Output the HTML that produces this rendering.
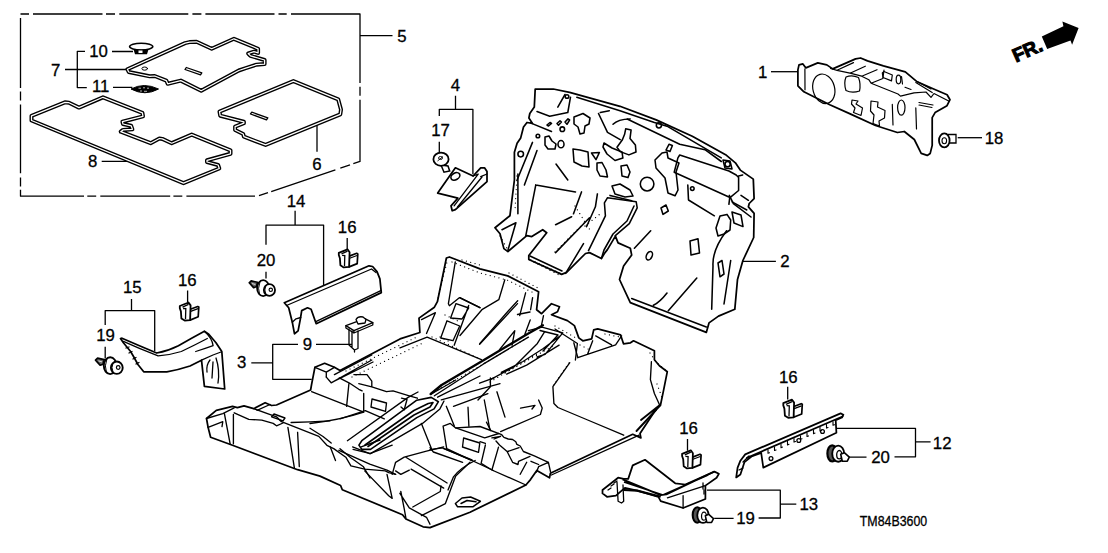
<!DOCTYPE html>
<html><head><meta charset="utf-8">
<style>
html,body{margin:0;padding:0;background:#fff;}
svg{display:block;}
text{font-family:"Liberation Sans",sans-serif;font-size:16.8px;fill:#000;stroke:#000;stroke-width:0.3px;}
.l{fill:none;stroke:#000;stroke-width:1.3;stroke-linejoin:round;stroke-linecap:butt;}
.o{fill:none;stroke:#000;stroke-width:1.75;stroke-linejoin:round;stroke-linecap:round;}
.t{fill:none;stroke:#000;stroke-width:1;stroke-linejoin:round;stroke-linecap:round;}
.mat{fill:#fff;stroke:#000;stroke-width:4;stroke-linejoin:round;}
.matin{fill:none;stroke:#fff;stroke-width:1.25;stroke-linejoin:round;}
</style></head>
<body>
<svg width="1108" height="553" viewBox="0 0 1108 553">
<!-- dashed box -->
<g class="l" id="box">
<path d="M20.5 14H29M33 14H102.5M106 14H115M119.3 14H188.3M192.4 14H201.4M205.4 14H274.5M278.5 14H286.7M291 14H360V82.9M360 86.8V95.8M360 99.8V161.4L353.3 163.7M350 164.8L340.3 168.1M335.4 169.8L271.2 191.6M268 192.7L259 195.7M255 196.2H186.4M182.3 196.2H173.4M170.2 196.2H100.3M96.2 196.2H87.3M84 196.2H20.5V189.7M20.5 186.4V177.4M20.5 173.2V104.5M20.5 100.4V91.4M20.5 88.1V18.1"/>
</g>
<!-- labels -->
<g id="labels">
<text x="762.6" y="78" text-anchor="middle">1</text>
<text x="785" y="267" text-anchor="middle">2</text>
<text x="241.7" y="368.4" text-anchor="middle">3</text>
<text x="455.3" y="91" text-anchor="middle">4</text>
<text x="402" y="41.6" text-anchor="middle">5</text>
<text x="317" y="169.5" text-anchor="middle">6</text>
<text x="55.7" y="75.6" text-anchor="middle">7</text>
<text x="92.6" y="167.4" text-anchor="middle">8</text>
<text x="307.4" y="350.4" text-anchor="middle">9</text>
<text x="98.5" y="56.8" text-anchor="middle">10</text>
<text x="100.6" y="92.4" text-anchor="middle">11</text>
<text x="942.2" y="448.5" text-anchor="middle">12</text>
<text x="808.8" y="510" text-anchor="middle">13</text>
<text x="296" y="206.7" text-anchor="middle">14</text>
<text x="132.3" y="293.3" text-anchor="middle">15</text>
<text x="347.2" y="232.5" text-anchor="middle">16</text>
<text x="187.3" y="285.5" text-anchor="middle">16</text>
<text x="688.5" y="434" text-anchor="middle">16</text>
<text x="788.3" y="382.7" text-anchor="middle">16</text>
<text x="440.5" y="136.4" text-anchor="middle">17</text>
<text x="994" y="144" text-anchor="middle">18</text>
<text x="105.6" y="341" text-anchor="middle">19</text>
<text x="745.6" y="524.3" text-anchor="middle">19</text>
<text x="266" y="266.4" text-anchor="middle">20</text>
<text x="880.5" y="463" text-anchor="middle">20</text>
<text x="859.8" y="526" textLength="67.4" lengthAdjust="spacingAndGlyphs" style="font-size:14px">TM84B3600</text>
</g>
<!-- leader lines -->
<g class="l" id="leaders">
<path d="M771 71.7H797"/>
<path d="M742 261.4H775.9"/>
<path d="M251.3 362.8H272.7M298 344.3H272.7V379.3H311.7M316 344.3H352"/>
<path d="M455.5 95.7V109.3M439.3 116V109.3H472.9V174.3M439.3 141.8V152.7"/>
<path d="M360 35.6H392.5"/>
<path d="M317 125.2V151.8"/>
<path d="M65 69.5H127.3M85 51.3H77.3V87.6H86.8M112 51.5H133M113 87.3H132.4"/>
<path d="M101.7 161.4H134.7"/>
<path d="M915.5 441.8H930.6M837 428.4H915.5V456.8H894.5M847.8 457.2H866.5"/>
<path d="M780.3 504.2H796.3M706.9 490.2H780.3V518H758.6M714.2 518.3H733.6"/>
<path d="M295.1 210.8V225.1M266 244.7V225.1H323.6V285M266 271.8V278.6"/>
<path d="M131.5 299V310.6M105.2 325V310.6H154.7V351M105.2 346.8V358.4"/>
<path d="M347.2 238V250M187.6 290.4V302M787.7 386.7V399.4M687.5 439V450.8"/>
<path d="M957.7 137.7H982"/>
</g>
<!-- FR arrow -->
<path d="M1041.8 36.6L1063.4 26.3L1062.4 21.4L1078.6 27.9L1072.1 44.7L1070.5 40.4L1047.2 49Z" fill="#000"/>
<text x="1016" y="62.5" transform="rotate(-24 1016 62.5)" font-weight="700" style="font-weight:700;font-size:19px;stroke:#000;stroke-width:1.1;letter-spacing:0px">FR.</text>
<!-- mats -->
<g id="mats">
<path class="mat" d="M127.4 69.2L185.1 43.1L189.5 42.1L196.5 41.8L211.7 48.8L234 38.8L258.1 48.8L258.1 52.9L254 51.7L248.2 53.5L250.5 55.9L264.6 60L264.6 64.1L256.4 64.7L245.8 68.2L238.8 70.5L201.2 90.8L180.8 80.6L167.7 83.8L166.3 80.6L154.7 76L149.7 76.3L128.7 72Z"/>
<path class="matin" d="M127.4 69.2L185.1 43.1L189.5 42.1L196.5 41.8L211.7 48.8L234 38.8L258.1 48.8L258.1 52.9L254 51.7L248.2 53.5L250.5 55.9L264.6 60L264.6 64.1L256.4 64.7L245.8 68.2L238.8 70.5L201.2 90.8L180.8 80.6L167.7 83.8L166.3 80.6L154.7 76L149.7 76.3L128.7 72Z"/>
<path class="mat" d="M219.5 111.6L293.4 81.1L338.2 99.4L341 109.6L340.3 114.3L265.6 144.9L243.9 136.7L243.2 134L235.1 130L235.1 126.6L243.9 123.2L243.9 121.8L220.2 115.7Z"/>
<path class="matin" d="M219.5 111.6L293.4 81.1L338.2 99.4L341 109.6L340.3 114.3L265.6 144.9L243.9 136.7L243.2 134L235.1 130L235.1 126.6L243.9 123.2L243.9 121.8L220.2 115.7Z"/>
<path class="mat" d="M31.5 115.8L64.9 102.3L69 102.7L79 107.6L103 97.3L142.4 112.9L143 116.4L122.4 121.7L123 124L131.2 125.8L132.4 129.3L123 129.9L120.7 131.7L150.6 143.2L159.4 138.5L162.3 138.9L171.7 143.2L191.7 134.6L230.5 150.3L230.5 153.8L207 160.3L207 162L218.1 165L219.3 168.5L183.5 183.2L31.5 120.5Z"/>
<path class="matin" d="M31.5 115.8L64.9 102.3L69 102.7L79 107.6L103 97.3L142.4 112.9L143 116.4L122.4 121.7L123 124L131.2 125.8L132.4 129.3L123 129.9L120.7 131.7L150.6 143.2L159.4 138.5L162.3 138.9L171.7 143.2L191.7 134.6L230.5 150.3L230.5 153.8L207 160.3L207 162L218.1 165L219.3 168.5L183.5 183.2L31.5 120.5Z"/>
</g>

<!-- mat details -->
<g class="t">
<ellipse cx="144.7" cy="68.6" rx="2.8" ry="1.6"/>
<path d="M185 69.5L200.5 74.8L201.8 72.8L186.3 67.5Z" style="stroke-width:1.3"/>
<path d="M250.5 114L266.5 119.8L267.8 117.8L251.8 112.2Z" style="stroke-width:1.3"/>
</g>
<!-- clip 10 -->
<ellipse cx="141.2" cy="46.6" rx="11.6" ry="3.4" fill="#fff" stroke="#000" stroke-width="1.6"/>
<path d="M133.5 49.5L135 54.2H147L148.5 49.5Z" fill="#000"/>
<rect x="138.5" y="50.5" width="4" height="2.5" fill="#fff"/>
<!-- clip 11 -->
<path d="M131 89Q144 82 158.5 89Q145 96.5 131 89Z" fill="#000" stroke="#000" stroke-width="1"/>
<path d="M138.5 88.2h2.5M143 87.8h2M147 88.2h2M140 91h2M144 91.3h3" stroke="#fff" stroke-width="0.7"/>


<!-- part 2 -->
<g id="p2">
<path class="o" d="M535.2 89L553.3 89L569.6 92.3L620 106.3L656.2 119.9L692.3 136.2L725.6 154.7L735.4 162.8L740.3 170.1L753.3 179.1L754.1 198.6L749.2 203.5L748.4 206.8L754.1 213.3L753.7 237.5L742.9 260.5L737.5 279.5L734.8 309.3L718.5 316.1L709 322.9L706.3 332.4L630.3 302.6L619.5 279.5L623.6 266L631.7 255.1L630.3 248.3L618.1 242.9L615.4 236.1L607.4 249.6L604.4 253.5L601.4 258.5L589.5 252.6L585.5 253.5L566.6 272.4L561.6 274.4L528.8 259.5L528.8 255.5L546.7 232.7L542.7 229.7L531.8 236.6L526.8 235.6L507.9 251.6L503.9 248.6L500 233.7L495 227.7L509.9 215.8L514.4 180L514.4 152.3L517.1 143.3L520.7 137.9L523.5 127L527 122.5L532.5 123.4L528.9 118L529.8 113.5L534.3 107.1Z" fill="#fff"/>
<g class="t" style="stroke-width:1.55">
<path d="M537 111.6L549.7 116.2L567.8 112.5L570.5 97.2M557.8 107.1L565 94.5M576.8 97.2L620 110.8L654.4 122.6L667 126.2L721.3 157.9M531.6 123.4L551.5 131.5"/>
<circle cx="567" cy="96.5" r="1.8"/>
<path d="M547 125L550 122.5L551.5 123.5L548.5 126ZM557 123.5L560 120.7L561.4 122L558.5 125.2ZM565 122L568 118.9L569.6 120L567 124.3Z"/>
<circle cx="562.3" cy="129.2" r="2.3"/><circle cx="537.9" cy="136" r="1.8"/><circle cx="520.7" cy="154.1" r="2.8"/>
<path d="M574 117L583 113.5L590 118L589 124L585 126L584 133L580 134L578 127L574 124Z"/>
<path d="M545 137L549 136L552 141L556 144L555 149L548 149L545 145Z"/>
<ellipse cx="561" cy="144.2" rx="3" ry="3.6"/>
<path d="M532.5 142.4L517.1 180M537 150.5L524.4 185"/>
<path d="M573 149L580 150L588 152L589 167L582 166L574 162Z"/>
<path d="M591.5 153L599.4 152.5L596 159.6Z"/>
<path d="M597 163L602 162.5L606 170L607.5 177L600 176L597 170Z"/>
<path d="M604 143L612 148L622 152L622.9 158L615 160.5L607 154L603 147Z"/>
<path d="M598.5 113.5L607.5 132.4L620.2 139.7M600.3 112.5L609.3 110.7M613 124.3Q618 119 630 118.9M556 164L567.8 180"/>
<path d="M621 166L627 165L630 172L628 177.6L622 176Z"/>
<circle cx="658.9" cy="125.3" r="2.6"/><circle cx="727.6" cy="164.2" r="2.6"/>
<path d="M723 160L725 168L732 169L730 161Z"/>
<path d="M627.2 119L679.7 144.3L705 149.7L721.3 161.5"/>
<path d="M677.9 157.9L679.7 155L728.9 171L736.2 175L738.6 177.5L738.6 190.5L729.7 197.8L728.9 204.3M728.9 197L674.2 172.3L677.9 157.9M738.6 176L742.7 175M741 195.4L748.4 200.3M732.1 201.9L746.8 210"/>
<path d="M655 160L662 153L667 152L668 158L679 163L676 172L678 190L675 195.8L668 193L665 178L656 168Z"/>
<path d="M666 150L669 144.3L672.4 145.5L670 151.5Z"/>
<path d="M625.7 128.8L631.1 129.9L630 138.6L635.4 145.1L636 152L628.9 154.9L620.2 151.6L617 147.3L622.4 139.7L624.6 134.3Z"/>
<path d="M612 186L620 184L630 190L633 196L625 197L615 194Z"/>
<circle cx="647.1" cy="184.1" r="6.8"/><circle cx="692.3" cy="188.6" r="1.8"/>
<path d="M687.8 185L688.5 200L714.4 215.8M688.7 192.7"/>
<path d="M607.4 197.8L636.2 201.8L637.2 207.8L629.3 223.7L615.3 235.6M588.5 250.6L605.4 215.8L604.4 202.8L607.4 197.8M634 206L627 221L613 234L604 250L601.4 258.5"/>
<path d="M535.8 184.9L575.5 191.9M535.8 184.9L525.8 235.6M517.9 174L517.9 213.8M502 229.7L515.9 222.7L508 250M581.5 191.9L573.5 213.8M555.6 224.7L571.6 216.7M597.4 193.9L595.4 206.8L586.5 226.7M555.6 252.6L589.5 217.7M565.6 273.4L583.5 243.6M530 256L562 271"/>
<path d="M631.7 298.5L706.3 327M729.3 195.4L733.4 203.6L751 217M726.6 230.7Q712 250 713 266L711.7 309.3M730.7 260.5L724 304"/>
<path d="M720 216L727 214.4L730.7 220L730 230L724 234L718 236L716 228L718 222Z"/>
<path d="M732 212L741 215L743 226.6L734 223Z"/>
<path d="M690 241L698 238.8L699.5 253L691 255Z"/>
<ellipse cx="649.3" cy="255.7" rx="2.8" ry="4.5" transform="rotate(25 649.3 255.7)"/>
<path d="M661 208L666 205L668.3 211L663 214.4Z"/>
<path d="M718 263L722 260.5L724 274L720 276.8Z"/>
<path d="M650.7 230.7L634.4 248.3M696.8 278.1L668.3 310.7M667 293Q660 302 653.4 305.3M610 195.4L631.7 200.8"/>
</g>
</g>

<!-- part 3 carpet -->
<g id="p3">
<path class="o" d="M206.5 418.5L216.3 410.3L232.5 406.3L237.4 407.6L244 405.8L253.7 408.7L265.1 402.7L271.6 405.5L276.5 405L310.6 390L311.6 384.4L314.9 367.3L324.6 363.3L334.4 367.3L340 370.5L400 338.9L419.9 332.5L419 318.1L434.4 307.2L437.4 301.7L446.4 258L449.4 257L480 268.9L507.7 275.9L538.6 291.8L536.6 309.7L541.6 313.7L551.5 303.7L559.5 306.7L557.5 311.7L551.5 314.7L567.4 320.6L574.4 325.6L578.8 337.9L582.8 340.8L591.7 338.8L593.7 329.9L597.7 328.9L620.6 334.9L623.5 343.8L630.5 342.8L633.5 340.8L654.4 350.8L654.4 359.7L659.4 365.7L667.3 371.7L663.3 391.6L660.4 405.5L654.4 411.7L640 433.4L640.9 437.9L632.7 434.3L550.4 473.2L549.5 477.8L536.8 470.5L530.5 479.6L525.9 485L470 512.2L430 527.6L423.1 526.8L405.9 519L402.5 514.7L342.3 489.8L340.6 485.5L320 476.1L297.6 469.7L271.6 460L232.5 445.3L210.6 437.2L208.1 427.4Z" fill="#fff"/>
<g class="t" style="stroke-width:1.35">
<path d="M206.5 418.5L222.8 413.6L234.2 407.9M208.1 427.4L222.8 421.7L222 426.6"/>
<path d="M234.2 412.8L248.8 419.3L261.8 420.1L273.2 423.4L276.5 425.8L283 423"/>
<path d="M253.7 408.7L276.5 416.8L281.4 421.7L318.8 436.4L326.9 445.3L333.7 448.6L345.8 457.2L350.9 465.8L364.7 469.2L385.3 470.9L388.7 472.6L395.6 474.4"/>
<path d="M224.4 413.6L230.1 443.7M233.4 414.4L233.4 443.7M287.9 427.4L294.4 468.1M297.6 432.3L299.3 466.5"/>
<path d="M291.1 422.5Q310 422 330 420.9M257 410.3L270 404.5M271.6 416.8L283 420.9L285 418L274 414Z"/>
<path d="M314.9 367.3L326.3 372.2L334.4 367.3M326.3 372.2L326.3 377.1M311.6 391.7L363.7 412.1"/>
<path d="M326.3 377.1L331.2 382.8L371.8 360M334.4 374.6L371.8 355M332.8 382L373 362"/>
<path d="M339.3 377.9L349 382.8L358.8 389.3L362.1 390.9M349 382.8L346.6 406.4M363.7 393.4L363.7 410.4"/>
<path d="M353.9 374.6L367 374.6L371.8 381.2L371.8 386.8L386.5 391.7L393 390.9L409.3 395.8L417.4 398.2M358.8 383.6L371.8 386.8"/>
<path d="M372 399L386.5 403L385.5 411.3L371 407Z"/>
<path d="M401.5 398.1L407 399.5L404.2 409.8L401 407"/>
<path d="M310 423.5Q340 420 363.7 412.1M310 428.3L323 436.5L331.2 443"/>
<path d="M400 347.9L427.1 337.1L481.4 359.7M440.7 338L447 320.8L459.7 326L453 340.7ZM450.6 318L456 303.6L468.7 308L462 319ZM454.2 345.2L468.7 305.4"/>
<path d="M430.7 394L441.6 385L481.4 361.5L526.6 334.4L542.9 325.3" style="stroke-width:2.3"/><path d="M434.4 395.8L483.2 364.2L528.4 337.1"/>
<path d="M528.4 330.7L542 327.1L562.8 332.9L545.1 354.4L537 357M540 330.5L558 335L543 351M490.4 379.6L513.9 366.9L537.4 343.4L544.7 331.6M501.3 372.3L523 361.5L542.9 348.8L560 336M506.7 374.1L526.6 365.1L559.1 345.2"/>
<path d="M479.6 383.2L494 377.8M490.4 377.8L490.4 386.8L478 400M499.5 349.7L514.8 330.7L512.1 345.2M479.6 344.3L517.5 303.6M517.5 314.5L530 312M524.8 334.4L530.2 319.9"/>
<path d="M358.9 445.1L361.8 449.4L370.5 449.4L416.8 417.6L434.1 408.9L438.4 401.7L431.2 397.4L416.8 400.2L361.8 440.7ZM365 445L413.9 410.5L428.3 403.5L433 402.5L430 407L414 415L368 446.5" style="stroke-width:1.6"/>
<path d="M347.4 440.7L408.1 397.4L418 392M353.1 449.4L370.5 453.7L422.5 423.4L439.9 408.9L444 401"/>
<path d="M430.4 394.5L455.7 380M437.6 397.2L480 376M441.3 399.9L500 383.6"/>
<path d="M340 418.9L365.3 410.7L384.3 418.9M340 448.7L350.8 457.8L363.5 466.8L370 478"/>
<path d="M443.1 426.1L450.3 423.4L455.7 427.9L484.7 437.9L498.8 433.5M443.1 426.1L446.7 448.7L493.4 470.5M463.6 438L479.8 443L478.5 452.4L462.5 447Z"/>
<path d="M421.4 423.4L432.2 450.5M446.3 406.3L454.4 426.2M468 407.2L468.9 426.2M484.3 400L489.7 428.9M496.9 391.8L505 417.1M453.5 406.3L487.9 393.6"/>
<path d="M455.7 427.9L480 426.5L501.7 434.7L503.9 437.4L508.2 439L512.6 439.5L515.8 441.7L516.9 444.4L520.2 446L523.4 451.5L534.3 455.8L548.4 462.3L550.6 472.1M491.9 437.9L500.6 436.3L494.1 439M496 441L499.5 445L507.1 451.5L510.4 458L512.6 462.3L518 464.5L518.5 461.3L530 456.4M507.7 451.5L519.1 447.7M485.4 445L481.1 463.4M498.5 447.1L491.9 470M480 441.7L485.4 443.3M481.1 463.4L491.9 470L525.9 485M520.2 474.3L526.7 462.3M531 461.3L538.6 464.5M536.5 472.1L538.6 466.7L548.4 462.3M486.5 422.2L490.9 430.9"/>
<path d="M500.6 431.6L540.4 414.5L542.2 408.1L538.6 400M520.5 408.1L535 405.4L532 409M430 449.7L442.6 447.9L471.6 460.5M475.2 460.5Q460 468 453.5 476.8L448 490"/>
<path d="M553.9 403.5L557.9 407.5L587.7 420L623.7 435.2M552.9 386.6L553.9 403.5M552.9 386.6L569.8 362.7M651.4 361.7L650.4 379.6L654.4 393.5L659.4 404.5"/>
<path d="M573.8 342.8L577.8 357.7L615.6 344.8L621.6 335.9M587.7 353.8L592.7 340.8M595.7 335.9L611.6 344.8"/>
<path d="M551.4 475L639.1 435.2"/><path d="M641 420L659.9 405M636.5 431L656 410" style="stroke-width:1.9"/>
<path d="M504.8 279.8L498.8 299.7L481.9 309.7L460 335.5M460 297.7L479.9 307.7M517.7 300.7L505.8 313.7L479.9 343.5M525.6 292.8L519.7 315.6M532.6 297.7L530.6 309.7M541.6 324.6L543.5 315.6M555 329L577.4 343.5L575.4 360"/>
<path d="M455.3 261.9L448.4 303.7L449.4 305.7L459.3 297.7L480 307.7M421.5 319.6L435.4 312.7L426.5 333.5"/>
<path d="M335.5 460.6L330.3 446.9M338.9 450.3L369.8 464.1L387 470.1L395.6 474.4M364.7 470.9L388.7 495.8L392.2 498.4L387 474.4"/>
<path d="M400.8 491.5L404.2 508.7L405.9 518.2M399.9 493.3L409.3 507.9L426.5 517.3L430 524.2"/>
<path d="M392.2 474.4L395.6 462.3L404.2 457.2L426.5 451.2L443.7 446.9M395.6 470.9L400.8 474.4L409.3 470.1M405.9 457.2L447.1 483M411.1 469.2L443.7 488.1"/>
<path d="M412.8 507L440.3 491.5L441 486M421.4 515.6L445.4 503.6L455.7 476.1L470 462.3M430 447.7L433.4 452L462.6 462.3M443.7 448.6L472 460"/>
<path d="M455.4 503.5L462 498L470.6 497L480.4 501.3L472.8 506.8L457.6 506.8ZM461 503.5L467 500.5L476 501.8" style="stroke-width:1.5"/>
<path d="M352.6 446.9L369.8 453.7L392.2 445.2M361.2 446.9L380 440"/>
</g>
</g>
<!-- texture dots -->
<g fill="none" stroke="#000" stroke-width="1.25" stroke-linecap="round" stroke-dasharray="0.01 4.5">
<path d="M346 371L419 336M352 377L425 342M432 337L478 358"/>
<path d="M438 298L447 262M452 262L480 273L507 280L536 294"/>
<path d="M462 260L480 265M509 273L538 288"/>
<path d="M445 315L460 322M440 337L452 343"/>
<path d="M434 392L480 366L527 338M490 382L540 352M505 373L555 345"/>
<path d="M569 363L553 386M555 326L576 338M650 353L656 362L668 372M657 384L663 400"/>
<path d="M530 260L561 276M575 206L590 230M555 252L585 222M585 226L600 214"/>
<path d="M517 176L515 210M531 260L561 273.5"/>
<path d="M500 236L508 250"/>
<path d="M605 334L620 337M580 345L590 350"/>
</g>
<!-- screws -->
<g id="screws">
<g transform="translate(249.2 282.8) scale(0.95)"><path d="M0 0L2.1 -2L8.7 -0.5L7.6 4.1L4.6 5.1Z" fill="#666" stroke="#000" stroke-width="1.7" stroke-linejoin="round"/>
<path d="M3 0.8L6.5 1.8" stroke="#fff" stroke-width="0.8"/>
<ellipse cx="14.7" cy="5.6" rx="6.4" ry="8.4" fill="#fff" stroke="#000" stroke-width="1.9"/>
<path d="M11.5 -1.5Q8.5 6 11 12.5" fill="none" stroke="#000" stroke-width="1"/>
<ellipse cx="21.3" cy="7.6" rx="5.9" ry="6.2" fill="#fff" stroke="#000" stroke-width="1.9"/>
<path d="M17.5 3Q15.5 7.5 17.5 12" fill="none" stroke="#000" stroke-width="1"/>
<circle cx="22.7" cy="7.4" r="1.8" fill="none" stroke="#000" stroke-width="1.2"/></g>
<g transform="translate(95.5 360.1)"><path d="M0 0L2.1 -2L8.7 -0.5L7.6 4.1L4.6 5.1Z" fill="#666" stroke="#000" stroke-width="1.7" stroke-linejoin="round"/>
<path d="M3 0.8L6.5 1.8" stroke="#fff" stroke-width="0.8"/>
<ellipse cx="14.7" cy="5.6" rx="6.4" ry="8.4" fill="#fff" stroke="#000" stroke-width="1.9"/>
<path d="M11.5 -1.5Q8.5 6 11 12.5" fill="none" stroke="#000" stroke-width="1"/>
<ellipse cx="21.3" cy="7.6" rx="5.9" ry="6.2" fill="#fff" stroke="#000" stroke-width="1.9"/>
<path d="M17.5 3Q15.5 7.5 17.5 12" fill="none" stroke="#000" stroke-width="1"/>
<circle cx="22.7" cy="7.4" r="1.8" fill="none" stroke="#000" stroke-width="1.2"/></g>
<g transform="translate(849.3 457.2)"><ellipse cx="-17.1" cy="-3.8" rx="4.8" ry="8.1" fill="#555" stroke="#000" stroke-width="2.2"/>
<ellipse cx="-11.1" cy="-3.5" rx="6" ry="8.1" fill="#fff" stroke="#000" stroke-width="1.9"/>
<ellipse cx="-10" cy="-2.5" rx="2.6" ry="4.2" fill="#fff" stroke="#000" stroke-width="1.3"/>
<path d="M0 0L-5 -4.5L-8.6 -3L-7 4L-2 4Z" fill="#fff" stroke="#000" stroke-width="1.6" stroke-linejoin="round"/></g>
<g transform="translate(713.5 518.6) scale(0.95)"><ellipse cx="-17.1" cy="-3.8" rx="4.8" ry="8.1" fill="#555" stroke="#000" stroke-width="2.2"/>
<ellipse cx="-11.1" cy="-3.5" rx="6" ry="8.1" fill="#fff" stroke="#000" stroke-width="1.9"/>
<ellipse cx="-10" cy="-2.5" rx="2.6" ry="4.2" fill="#fff" stroke="#000" stroke-width="1.3"/>
<path d="M0 0L-5 -4.5L-8.6 -3L-7 4L-2 4Z" fill="#fff" stroke="#000" stroke-width="1.6" stroke-linejoin="round"/></g>
<!-- clip 18 -->
<path d="M948 134.5H956V143H948Z" fill="#fff" stroke="#000" stroke-width="1.3"/>
<ellipse cx="944.3" cy="140.4" rx="5.3" ry="7" fill="#fff" stroke="#000" stroke-width="1.8"/>
<ellipse cx="944.3" cy="140.8" rx="2.3" ry="3" fill="none" stroke="#000" stroke-width="1.1"/>
<!-- clip 17 -->
<path d="M441 165L448 166L449.7 171L444 172.2Z" fill="#fff" stroke="#000" stroke-width="1.5"/>
<ellipse cx="441" cy="159.2" rx="7.6" ry="6.6" fill="#fff" stroke="#000" stroke-width="1.8"/>
<path d="M437.5 161L443 156.5M438.5 158a2 1.5 0 1 0 4 0a2 1.5 0 1 0 -4 0" fill="none" stroke="#000" stroke-width="0.9"/>
</g>
<!-- clips 16 -->
<g id="clips16">
<g transform="translate(179.5 302.2)"><path d="M9.5 7.6L18.2 4.3L19.3 4.9L18.7 14.6L10.6 17.9Z" fill="#fff" stroke="#000" stroke-width="1.7" stroke-linejoin="round"/><path d="M0.3 3.8L9 0.3L11.1 3.2L10.6 17.9L5.2 18.4L1.9 16.3L1.4 9.2L0.3 6Z" fill="#fff" stroke="#000" stroke-width="1.8" stroke-linejoin="round"/><path d="M3.6 6.3L6.3 6.5L6 17M3 4.9L9 2.2M10.5 9.5L18.5 6.5" fill="none" stroke="#000" stroke-width="1.3"/></g>
<g transform="translate(338.5 249)"><path d="M9.5 7.6L18.2 4.3L19.3 4.9L18.7 14.6L10.6 17.9Z" fill="#fff" stroke="#000" stroke-width="1.7" stroke-linejoin="round"/><path d="M0.3 3.8L9 0.3L11.1 3.2L10.6 17.9L5.2 18.4L1.9 16.3L1.4 9.2L0.3 6Z" fill="#fff" stroke="#000" stroke-width="1.8" stroke-linejoin="round"/><path d="M3.6 6.3L6.3 6.5L6 17M3 4.9L9 2.2M10.5 9.5L18.5 6.5" fill="none" stroke="#000" stroke-width="1.3"/></g>
<g transform="translate(681.8 450)"><path d="M9.5 7.6L18.2 4.3L19.3 4.9L18.7 14.6L10.6 17.9Z" fill="#fff" stroke="#000" stroke-width="1.7" stroke-linejoin="round"/><path d="M0.3 3.8L9 0.3L11.1 3.2L10.6 17.9L5.2 18.4L1.9 16.3L1.4 9.2L0.3 6Z" fill="#fff" stroke="#000" stroke-width="1.8" stroke-linejoin="round"/><path d="M3.6 6.3L6.3 6.5L6 17M3 4.9L9 2.2M10.5 9.5L18.5 6.5" fill="none" stroke="#000" stroke-width="1.3"/></g>
<g transform="translate(783 399.4)"><path d="M9.5 7.6L18.2 4.3L19.3 4.9L18.7 14.6L10.6 17.9Z" fill="#fff" stroke="#000" stroke-width="1.7" stroke-linejoin="round"/><path d="M0.3 3.8L9 0.3L11.1 3.2L10.6 17.9L5.2 18.4L1.9 16.3L1.4 9.2L0.3 6Z" fill="#fff" stroke="#000" stroke-width="1.8" stroke-linejoin="round"/><path d="M3.6 6.3L6.3 6.5L6 17M3 4.9L9 2.2M10.5 9.5L18.5 6.5" fill="none" stroke="#000" stroke-width="1.3"/></g>
</g>
<!-- part 1 -->
<g id="p1">
<path class="o" d="M799 64.9L802.9 63.9L805.9 67.9L817.8 62.9L826.8 64.9L832.7 68.9L855.6 58.9L860.6 58L867.5 60.9L883.4 65.9L905.3 71.9L917.2 81.8L933.1 88.8L947.1 94.7L950 99.7L947 105.7L935.1 112.6L932.2 117.6L932.2 145.4L930.2 153.4L927.2 155.4L921.2 153.4L914.3 139.5L904.3 131.5L897.4 132.5L875.5 125.5L849.6 113.6L829.8 104.7L815.8 97.7L803.9 91.8L797.9 85.8L797.9 69.9Z"/>
<g class="t" style="stroke-width:1.2">
<ellipse cx="823.8" cy="88.8" rx="10.8" ry="15" transform="rotate(-15 823.8 88.8)"/>
<path d="M804.9 68.9L805 89.8"/>
<path d="M846 77Q852 74.5 858.5 77.5Q861 84 859.5 91Q852 93.5 846 90.5Q843.5 83 846 77Z"/>
<path d="M852 100L858 101L856 104L862.5 108L861 115.5L853.5 112.5L855 108L851.5 104Z"/>
<path d="M871 101L878 102L877.5 107L885 110.5L884.5 118L879 121L879.5 126L873 123.5L874 115L870.5 111Z"/>
<ellipse cx="901.3" cy="107.6" rx="3.7" ry="7.6"/>
<path d="M882.3 73L884 71.5L892.3 75L891.5 80.9L883 77.5Z"/>
<path d="M837 70.3L853.5 62.6M850 73.2L865.3 66.2M861.7 76.2L877 69.7M830.5 68.5L837 70.3L850 73.2L861.7 76.2L868.8 79.7L871.1 83.2L882.9 78.5L884 70M871.1 83.2L898 94L900.5 96.1L914 92.8L926 92L931 97.3L934 93.5L948.7 101M901.5 76.5L902.5 84M905 87.3L911 89.5M915.8 82.6L932.2 92.6M918 82L931 89M919 102.5L933 105M919 105L932 107.5M892.3 104.4L893 125M915.8 107.9L916.5 129"/><ellipse cx="898.5" cy="79.5" rx="2.3" ry="4.3"/>
</g>
</g>
<!-- part 4 -->
<g id="p4">
<path class="o" d="M455.4 167.8L473.1 176L480.7 167.8L484.5 167.8L487 171.6L487 181.7L455.4 209.6L452.2 210.8L451 205.8L457.9 198.2L437.7 193.1Z" fill="#fff"/>
<g class="t" style="stroke-width:1.3"><path d="M478.2 174.1L454.1 205.8M482 177L457.5 207M480.7 176.6L487 174M473.1 176L478.2 174.1"/>
<ellipse cx="455.4" cy="176.4" rx="4.8" ry="3.3" transform="rotate(-30 455.4 176.4)" style="stroke-width:1.6"/></g>
</g>
<!-- part 14 -->
<g id="p14">
<path class="o" d="M284.3 302.7L369 265.8L372.6 266.5L377 271.6L379.9 278.8L381.3 292.6L316.2 323.7L311.1 309.2L307.5 307.8L301.7 310.6L300.3 319.3L298.1 330.9L294.5 333.8L292.3 322.2L288.7 307.8Z" fill="#fff"/>
<path class="t" style="stroke-width:1.3" d="M286.5 305.5L371.5 269L376 272.5M315.8 321.6L380.8 290.6M292.3 322.2L296 318.8L300.8 317.5"/>
</g>
<!-- part 9 -->
<g id="p9" class="t" style="stroke-width:1.3">
<path d="M345.9 325.6L364.8 318.6L372.8 322.6L353.9 330.6Z" fill="#fff"/>
<path d="M345.9 325.6V328L353.9 333L372.8 325V322.6M353.9 330.6V333"/>
<path d="M356 319.5Q358 316 363 317L366 319.5L365 323L358 324Z" fill="#fff"/>
<path d="M349 329V345L354.5 350L358 348.5V331M352 331V347M354.5 350V352"/>
</g>
<!-- part 15 -->
<g id="p15">
<path class="o" d="M120.5 338.5L122 338.2Q140 346 156.7 353Q168 351 178.4 345.7Q192 338 204.4 331.3L208.8 334.2L216 342.8L221.8 351.5L224.7 389L204.4 386.3L201.5 360.2Q196 363 190 366Q178 370 166.8 371.8L143.7 371.8L137.9 364.5Q134 357 130.6 351.5L123.4 342.8Z" fill="#fff"/>
<path class="t" style="stroke-width:1.3" d="M123.4 341.4Q140 349 158.1 355.9Q170 355 181.3 351.5Q195 345 207.3 338.5M204.4 331.3Q212 338 213.1 345.7Q204 349 195.7 351.5M201.5 360.2L213 355L221 352M207 372Q206 365 210 360M212 378L213 362M218 383Q220 370 216 358M126 348l3 -1M129 353l3 -1.5M133 359l3 -1.5M136 364l3 -1.5"/>
</g>
<!-- part 12 -->
<g id="p12">
<path class="o" d="M745.2 454.4L840.6 413.4L843.4 414.7L842 417.5L835.7 420.3L836.4 432.8L763.3 467.6L761.2 453L751.5 456.5L744.5 462.1L740.4 474.6L736.2 477.4L737.6 467.6L740.4 460.7Z" fill="#fff"/>
<path class="t" style="stroke-width:1.8" d="M747 457.8L842.5 416.5"/><path class="t" style="stroke-width:1.3" d="M743 462L749 456M739 470L743 468"/>
<path class="t" style="stroke-width:1.1" d="M768.0 449.8v3.5l1.5 -0.6M774.5 447.0v3.5l1.5 -0.6M781.0 444.2v3.5l1.5 -0.6M787.5 441.4v3.5l1.5 -0.6M794.0 438.6v3.5l1.5 -0.6M800.5 435.8v3.5l1.5 -0.6M807.0 433.0v3.5l1.5 -0.6M813.5 430.2v3.5l1.5 -0.6M820.0 427.4v3.5l1.5 -0.6M826.5 424.6v3.5l1.5 -0.6M833.0 421.8v3.5l1.5 -0.6"/>
<g fill="none" stroke="#000" stroke-width="1.3"><circle cx="771" cy="458.6" r="1.9"/><circle cx="798.8" cy="440.5" r="1.9"/><circle cx="822.5" cy="431.5" r="1.9"/></g>
</g>
<!-- part 13 -->
<g id="p13">
<path class="o" d="M602.5 490L618.1 477.7L623.7 478.9L628.2 478.9L632.7 465.4L645 459.8L675.2 483.3L685.3 484.5L714.4 471.6L718.9 473.8L716.6 477.7L705.4 485.6L705.4 499L683.1 508L660.7 501.2L658.4 496.8L637.2 490.6L624.9 487.8L615.9 495.6L607 496.8L602.5 493.4Z" fill="#fff"/>
<path class="t" style="stroke-width:1.3" d="M667.4 497.9L705.4 485.6M683.1 495.6L683.1 508M617 482.2L618.1 501.2L621.5 503L623.7 501.2L623 485M608 490l3 -2M611 486l3 -2M614 483l3 -2M703 483v6M704 490v4"/>
<path d="M623.7 490L637.2 490.6L660.7 496.8" fill="none" stroke="#000" stroke-width="2.2"/><path d="M622.6 479.4L660.7 495.1L666.3 494.5L714.4 471.6M624 482L662.9 495L708 475" fill="none" stroke="#000" stroke-width="1.7" stroke-linejoin="round"/>
</g>
</svg>
</body></html>
